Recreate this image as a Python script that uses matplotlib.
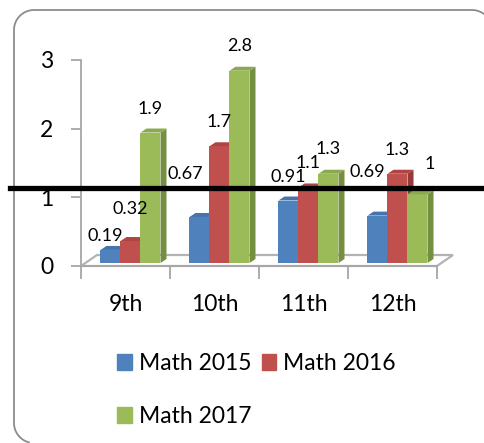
import matplotlib
matplotlib.use("Agg")
import matplotlib.pyplot as plt
import matplotlib.patches as mpatches
from matplotlib.lines import Line2D
import numpy as np

plt.rcParams["font.family"] = ["Lato", "DejaVu Sans"]

# data
grades = ["9th", "10th", "11th", "12th"]
series = ["Math 2015", "Math 2016", "Math 2017"]
math_2015 = [0.19, 0.67, 0.91, 0.69]
math_2016 = [0.32, 1.7, 1.1, 1.3]
math_2017 = [1.9, 2.8, 1.3, 1]
labels_2015 = ["0.19", "0.67", "0.91", "0.69"]
labels_2016 = ["0.32", "1.7", "1.1", "1.3"]
labels_2017 = ["1.9", "2.8", "1.3", "1"]

# excel 2007 palette: front, side, top
colors = [("#4F81BD", "#3B6294", "#4675AE"),
          ("#C0504D", "#943B39", "#AE4542"),
          ("#9BBB59", "#748F3F", "#8BA94E")]

# label nudges in pixels (dx, extra dy) - excel moves a few to avoid overlap
nudges = [[(-5, -10), (-14, 19), (0, 0), (-10, 20)],
          [(0, 8), (0, 0), (0, 0), (0, 0)],
          [(0, 0), (0, 1), (0, 1), (12, 6)]]

W, H = 485, 443
fig = plt.figure(figsize=(W / 100, H / 100), dpi=100)
ax = fig.add_axes([81 / W, (H - 266) / H, 356 / W, 206 / H])
ax.set_xlim(-0.5, 3.5)
ax.set_ylim(0, 3)
ax.patch.set_visible(False)

px_x = 356 / 4   # pixels per category
px_y = 206 / 3   # pixels per unit

# 3d offsets in data units
floor_dx, floor_dy = 16 / px_x, 11 / px_y
base_dx, base_dy = 5 / px_x, 3 / px_y
side_dx, side_dy = 6 / px_x, 4 / px_y
bw = 20 / px_x

# floor
floor = mpatches.Polygon([(-0.5, 0), (3.5, 0), (3.5 + floor_dx, floor_dy),
                          (-0.5 + floor_dx, floor_dy)], closed=True,
                         facecolor="white", edgecolor="#b3b3b3", lw=1.6,
                         clip_on=False, zorder=1)
ax.add_patch(floor)

x = np.arange(len(grades))
all_vals = [math_2015, math_2016, math_2017]
all_labels = [labels_2015, labels_2016, labels_2017]
for i in range(len(grades)):
    for j, vals in enumerate(all_vals):
        v = vals[i]
        cx = x[i] + (j - 1) * bw + base_dx
        front, side, top = colors[j]
        z = 3 + j
        ax.bar(cx, v, width=bw, bottom=base_dy, color=front, zorder=z,
               clip_on=False)
        r = cx + bw / 2
        l = cx - bw / 2
        t = base_dy + v
        ax.add_patch(mpatches.Polygon(
            [(r, base_dy), (r + side_dx, base_dy + side_dy),
             (r + side_dx, t + side_dy), (r, t)],
            closed=True, facecolor=side, edgecolor="none", zorder=z,
            clip_on=False))
        ax.add_patch(mpatches.Polygon(
            [(l, t), (r, t), (r + side_dx, t + side_dy), (l + side_dx, t + side_dy)],
            closed=True, facecolor=top, edgecolor="none", zorder=z,
            clip_on=False))
        ndx, ndy = nudges[j][i]
        ax.annotate(all_labels[j][i], (cx, t), xytext=(ndx * 0.72, (24 + ndy) * 0.72),
                    textcoords="offset points", ha="center", va="center",
                    fontsize=13, color="black", zorder=10, annotation_clip=False)

# axes styling
for s in ["top", "right"]:
    ax.spines[s].set_visible(False)
ax.spines["left"].set_color("#a6a6a6")
ax.spines["bottom"].set_color("#a6a6a6")
ax.spines["left"].set_linewidth(1.3)
ax.spines["bottom"].set_linewidth(1.3)
ax.set_yticks([0, 1, 2, 3])
ax.set_yticklabels(["0", "1", "2", "3"])
ax.tick_params(axis="y", direction="out", length=7, width=1.3, color="#a6a6a6",
               labelsize=16.5, pad=13)
ax.set_xticks(x)
ax.set_xticklabels(grades)
ax.set_xticks(np.arange(-0.5, 4, 1), minor=True)
ax.tick_params(axis="x", which="major", length=0, labelsize=16.5, pad=20)
ax.tick_params(axis="x", which="minor", direction="out", length=9, width=1.3,
               color="#a6a6a6")

# legend, reordered so it fills row-wise
handles = [mpatches.Patch(color=c[0]) for c in colors]
order = [0, 2, 1]
fig.legend([handles[k] for k in order], [series[k] for k in order],
           ncol=2, loc="upper left", bbox_to_anchor=(117 / W, (H - 353) / H),
           frameon=False, fontsize=16.5, handlelength=0.65, handleheight=0.65,
           handletextpad=0.3, columnspacing=0.45, labelspacing=1.4,
           borderpad=0, borderaxespad=0)

# the thick black line drawn across the chart
fig.add_artist(Line2D([10 / W, 1.0], [(H - 188) / H] * 2, color="black", lw=3.8,
                      transform=fig.transFigure, zorder=20))

# rounded chart border in pixels (y down); the right and bottom edges fall
# outside the picture, so only the left/top edges and the corner starts show
x0, y0, rad = 14, 10, 20
top_end, left_end = 472, 423


def arc(cx, cy, a0, a1, n=16):
    a = np.radians(np.linspace(a0, a1, n))
    return list(zip(cx + rad * np.cos(a), cy + rad * np.sin(a)))


verts = arc(x0 + rad, left_end, 105, 180)          # bottom-left corner start
verts += arc(x0 + rad, y0 + rad, 180, 270)         # top-left corner
verts += arc(top_end, y0 + rad, 270, 312, 8)       # top-right corner start
verts = [(vx / W, (H - vy) / H) for vx, vy in verts]
frame = Line2D([v[0] for v in verts], [v[1] for v in verts], color="#8c8c8c",
               lw=1.3, transform=fig.transFigure)
fig.add_artist(frame)

fig.savefig("out.png", dpi=100)
